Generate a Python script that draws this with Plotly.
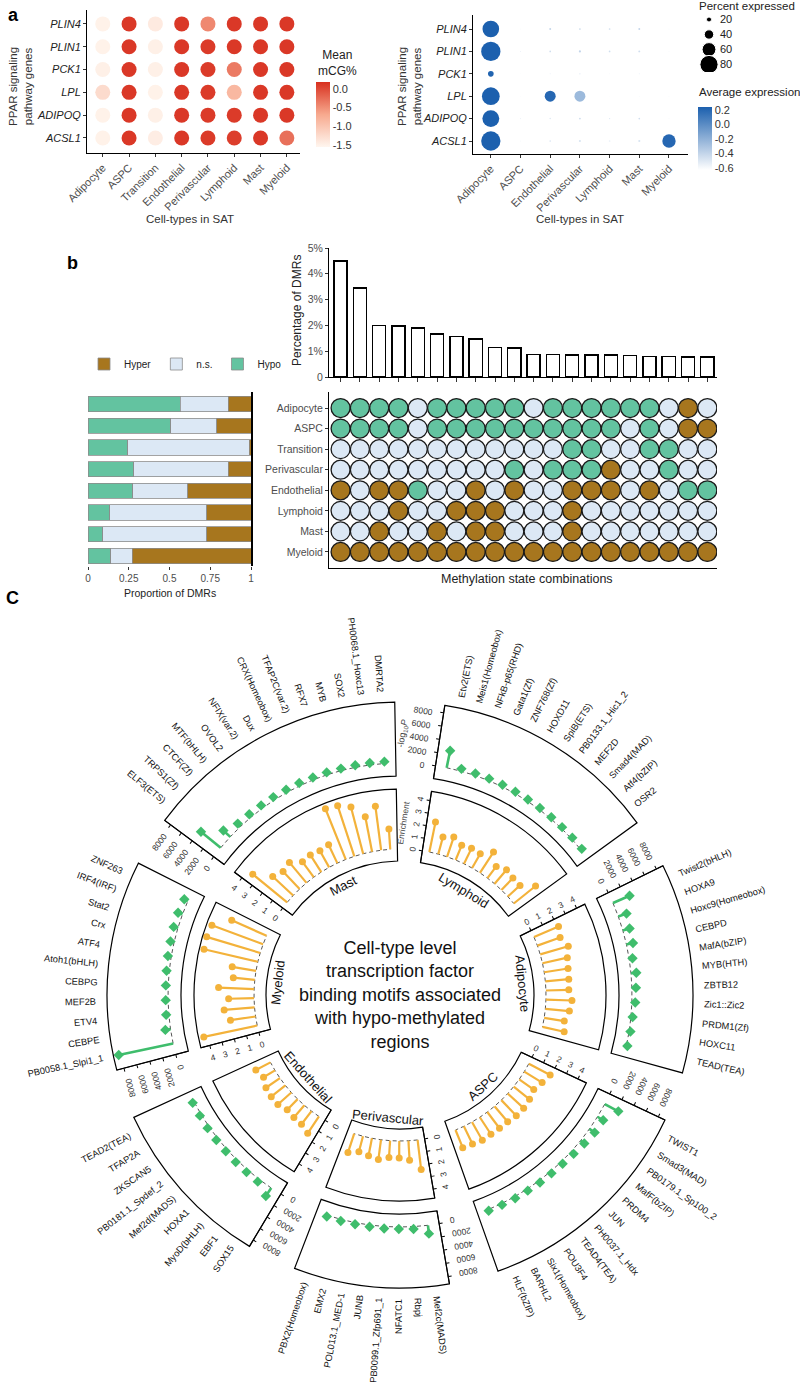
import math
import plotly.graph_objects as go

W, H = 800, 1382
FONT = "Liberation Sans, Arial, Helvetica, sans-serif"
TICKC = "#4D4D4D"


def fx(px):
    return px / W


def fy(py):
    return 1 - py / H


# ---------------- Panel a (left): mean mCG% ----------------
a1_celltypes = ["Adipocyte", "ASPC", "Transition", "Endothelial", "Perivascular", "Lymphoid", "Mast", "Myeloid"]
a_genes = ["PLIN4", "PLIN1", "PCK1", "LPL", "ADIPOQ", "ACSL1"]
mcg_PLIN4 = [-1.50, 0.12, -1.42, 0.12, -0.45, 0.12, 0.12, 0.12]
mcg_PLIN1 = [-1.50, 0.12, -1.48, 0.12, 0.10, 0.12, 0.12, 0.12]
mcg_PCK1 = [-1.48, 0.12, -1.48, 0.12, 0.10, -0.35, 0.12, 0.12]
mcg_LPL = [-1.25, 0.12, -1.50, 0.12, 0.10, -0.85, 0.12, 0.12]
mcg_ADIPOQ = [-1.50, 0.12, -1.48, 0.12, 0.10, 0.10, 0.12, 0.12]
mcg_ACSL1 = [-1.50, 0.12, -1.45, 0.12, 0.10, 0.08, 0.12, -0.28]
mcg_ticks = [0.0, -0.5, -1.0, -1.5]

# ---------------- Panel a (right): expression dot plot ----------------
a2_celltypes = ["Adipocyte", "ASPC", "Endothelial", "Perivascular", "Lymphoid", "Mast", "Myeloid"]
pct_PLIN4 = [73, 2, 6, 5, 5, 6, 2]
pct_PLIN1 = [85, 2, 5, 7, 5, 6, 2]
pct_PCK1 = [23, 1, 2, 3, 2, 2, 1]
pct_LPL = [78, 1, 47, 47, 1, 2, 2]
pct_ADIPOQ = [74, 2, 4, 6, 3, 5, 2]
pct_ACSL1 = [85, 3, 5, 7, 5, 7, 58]
avg_PLIN4 = [0.24, -0.60, -0.40, -0.42, -0.45, -0.40, -0.60]
avg_PLIN1 = [0.24, -0.55, -0.45, -0.40, -0.45, -0.45, -0.60]
avg_PCK1 = [0.22, -0.60, -0.55, -0.50, -0.60, -0.55, -0.60]
avg_LPL = [0.24, -0.60, 0.20, -0.25, -0.60, -0.60, -0.60]
avg_ADIPOQ = [0.24, -0.55, -0.50, -0.45, -0.50, -0.45, -0.60]
avg_ACSL1 = [0.24, -0.60, -0.50, -0.48, -0.55, -0.48, 0.20]
pct_legend = [20, 40, 60, 80]
avg_ticks = [0.2, 0.0, -0.2, -0.4, -0.6]

# ---------------- Panel b ----------------
b_rows = ["Adipocyte", "ASPC", "Transition", "Perivascular", "Endothelial", "Lymphoid", "Mast", "Myeloid"]
b_combo_pct = [4.5, 3.45, 2.0, 1.97, 1.9, 1.67, 1.58, 1.47, 1.15, 1.13,
               0.87, 0.87, 0.86, 0.85, 0.85, 0.83, 0.80, 0.80, 0.77, 0.77]
# G = hypo, N = n.s., B = hyper
state_Adipocyte = "GGGGNGGGGGNGGGGGGNBN"
state_ASPC = "GGGGNGGGGGGGGGGNGNBB"
state_Transition = "NNNNNNNNNNNNGGNNGGNN"
state_Perivascular = "NNNNNNNNNGNGGGBNNGNN"
state_Endothelial = "BNBBGNNBNBNNBBBNBNGG"
state_Lymphoid = "NNNBNNBBBNNNBNNNNNNN"
state_Mast = "NNBNNBNBBNNNBNNNNNNN"
state_Myeloid = "BBBBBBBBBBBBBBBBBBBB"
prop_hypo = [0.566, 0.509, 0.245, 0.282, 0.274, 0.133, 0.090, 0.140]
prop_ns = [0.295, 0.280, 0.743, 0.579, 0.339, 0.595, 0.640, 0.130]
prop_hyper = [0.139, 0.211, 0.012, 0.139, 0.387, 0.272, 0.270, 0.730]

# ---------------- Panel C ----------------
tf_Lymphoid = ["Etv2(ETS)", "Meis1(Homeobox)", "NFkB-p65(RHD)", "Gata1(Zf)", "ZNF768(Zf)", "HOXD11",
               "SpiB(ETS)", "PB0133.1_Hic1_2", "MEF2D", "Smad4(MAD)", "Atf4(bZIP)", "OSR2"]
enr_Lymphoid = [2.4, 1.4, 1.65, 1.25, 1.35, 1.3, 1.95, 1.15, 1.45, 1.3, 1.3, 2.2]
logp_Lymphoid = [2600, 350, 300, 300, 280, 250, 250, 230, 220, 200, 200, 180]

tf_Mast = ["ELF3(ETS)", "TRPS1(Zf)", "CTCF(Zf)", "MTF(bHLH)", "OVOL2", "NFIX(var.2)", "Dux",
           "CRX(Homeobox)", "TFAP2C(var.2)", "RFX7", "MYB", "SOX2", "PH0068.1_Hoxc13", "DMRTA2"]
enr_Mast = [3.5, 2.2, 1.9, 2.1, 1.5, 1.6, 1.5, 1.6, 4.3, 4.2, 3.8, 2.8, 3.5, 1.6]
logp_Mast = [3800, 1400, 600, 500, 450, 450, 400, 400, 350, 350, 300, 300, 300, 280]

tf_Myeloid = ["PB0058.1_Slpi1_1", "CEBPE", "ETV4", "MEF2B", "CEBPG", "Atoh1(bHLH)", "ATF4",
              "Crx", "Stat2", "IRF4(IRF)", "ZNF263"]
enr_Myeloid = [4.3, 2.0, 2.4, 2.0, 2.8, 1.7, 1.9, 4.35, 4.4, 4.3, 3.0]
logp_Myeloid = [8300, 780, 400, 350, 350, 400, 500, 550, 650, 700, 600]

tf_Endothelial = ["SOX15", "EBF1", "MyoD(bHLH)", "HOXA1", "Mef2d(MADS)", "PB0181.1_Spdef_2",
                  "ZKSCAN5", "TFAP2A", "TEAD2(TEA)"]
enr_Endothelial = [1.6, 1.3, 1.26, 1.17, 1.42, 1.42, 1.34, 1.05, 1.3]
logp_Endothelial = [1450, 400, 350, 350, 300, 300, 300, 250, 250]

tf_Perivascular = ["Mef2c(MADS)", "Rbpj", "NFATC1", "PB0099.1_Zfp691_1", "JUNB", "POL013.1_MED-1",
                   "EMX2", "PBX2(Homeobox)"]
enr_Perivascular = [2.35, 1.53, 1.34, 1.33, 1.57, 1.4, 1.27, 1.57]
logp_Perivascular = [1250, 350, 300, 300, 250, 250, 250, 200]

tf_ASPC = ["TWIST1", "Smad3(MAD)", "PB0179.1_Sp100_2", "MafF(bZIP)", "PRDM4", "JUN", "PH0037.1_Hdx",
           "TEAD4(TEA)", "POU3F4", "Six1(Homeobox)", "BARHL2", "HLF(bZIP)"]
enr_ASPC = [1.9, 1.65, 1.4, 1.6, 1.7, 1.7, 1.6, 1.6, 1.6, 1.65, 1.55, 1.5]
logp_ASPC = [2300, 1000, 950, 700, 500, 350, 300, 300, 250, 250, 200, 200]

tf_Adipocyte = ["Twist2(bHLH)", "HOXA9", "Hoxc9(Homeobox)", "CEBPD", "MafA(bZIP)", "MYB(HTH)",
                "ZBTB12", "Zic1::Zic2", "PRDM1(Zf)", "HOXC11", "TEAD(TEA)"]
enr_Adipocyte = [2.1, 1.9, 2.3, 2.0, 1.9, 1.85, 1.8, 2.05, 1.9, 1.6, 1.75]
logp_Adipocyte = [2700, 1300, 1050, 1000, 500, 800, 600, 500, 250, 200, 150]

c_sectors = ["Lymphoid", "Mast", "Myeloid", "Endothelial", "Perivascular", "ASPC", "Adipocyte"]
c_tfs = [tf_Lymphoid, tf_Mast, tf_Myeloid, tf_Endothelial, tf_Perivascular, tf_ASPC, tf_Adipocyte]
c_enr = [enr_Lymphoid, enr_Mast, enr_Myeloid, enr_Endothelial, enr_Perivascular, enr_ASPC, enr_Adipocyte]
c_logp = [logp_Lymphoid, logp_Mast, logp_Myeloid, logp_Endothelial, logp_Perivascular, logp_ASPC, logp_Adipocyte]

# ---------------- styles ----------------
HYPO, NS, HYPER = "#63C3A0", "#DCE8F5", "#A7761E"
STATE_COL = {"G": HYPO, "N": NS, "B": HYPER}
ORANGE, GREEN = "#F3B23A", "#3FBD6C"
red_scale = [[0.0, "#FFF6EF"], [0.5, "#F7A98E"], [1.0, "#D8301F"]]
blue_scale = [[0.0, "#FFFFFF"], [1.0, "#1C60AE"]]

fig = go.Figure()
ann = []


def add_text(x, y, text, size=11, color="#222", angle=0, xanchor="center", yanchor="middle", bold=False):
    if bold:
        text = "<b>" + text + "</b>"
    ann.append(dict(x=fx(x), y=fy(y), xref="paper", yref="paper", text=text, showarrow=False,
                    textangle=angle, xanchor=xanchor, yanchor=yanchor,
                    font=dict(size=size, color=color, family=FONT)))


# ======== Panel a left ========
mcg_rows = [mcg_PLIN4, mcg_PLIN1, mcg_PCK1, mcg_LPL, mcg_ADIPOQ, mcg_ACSL1]
xs, ys, cs = [], [], []
for g, vals in zip(a_genes, mcg_rows):
    for ct, v in zip(a1_celltypes, vals):
        xs.append(ct); ys.append(g); cs.append(v)
fig.add_trace(go.Scatter(
    x=xs, y=ys, mode="markers", xaxis="x", yaxis="y", showlegend=False, hoverinfo="skip",
    marker=dict(size=15, opacity=1, color=cs, cmin=-1.55, cmax=0.18, colorscale=red_scale,
                colorbar=dict(x=fx(316), xanchor="left", y=fy(114.5), yanchor="middle",
                              len=65, lenmode="pixels", thickness=14, thicknessmode="pixels",
                              xpad=0, ypad=0, outlinewidth=0, ticks="",
                              tickvals=mcg_ticks, ticktext=["%.1f" % t for t in mcg_ticks],
                              tickfont=dict(size=11, color="#333", family=FONT)))))
add_text(316, 63, "Mean<br>mCG%", size=12, xanchor="left")

# ======== Panel a right ========
pct_rows = [pct_PLIN4, pct_PLIN1, pct_PCK1, pct_LPL, pct_ADIPOQ, pct_ACSL1]
avg_rows = [avg_PLIN4, avg_PLIN1, avg_PCK1, avg_LPL, avg_ADIPOQ, avg_ACSL1]
xs, ys, ss, cs = [], [], [], []
for g, prow, arow in zip(a_genes, pct_rows, avg_rows):
    for ct, p, a in zip(a2_celltypes, prow, arow):
        xs.append(ct); ys.append(g); ss.append(0.22 * p + 0.6); cs.append(a)
fig.add_trace(go.Scatter(
    x=xs, y=ys, mode="markers", xaxis="x2", yaxis="y2", showlegend=False, hoverinfo="skip",
    marker=dict(size=ss, sizemode="diameter", opacity=1, color=cs, cmin=-0.63, cmax=0.24,
                colorscale=blue_scale, line=dict(width=0),
                colorbar=dict(x=fx(698), xanchor="left", y=fy(138.5), yanchor="middle",
                              len=63, lenmode="pixels", thickness=14, thicknessmode="pixels",
                              xpad=0, ypad=0, outlinewidth=0, ticks="",
                              tickvals=avg_ticks, ticktext=["%.1f" % t for t in avg_ticks],
                              tickfont=dict(size=11, color="#333", family=FONT)))))
add_text(697, 92, "Average expression", size=11.5, xanchor="left")
# size legend
fig.add_trace(go.Scatter(
    x=[0] * len(pct_legend), y=[str(p) for p in pct_legend], mode="markers", xaxis="x3", yaxis="y3",
    showlegend=False, hoverinfo="skip",
    marker=dict(size=[0.22 * p + 0.6 for p in pct_legend], color="black", opacity=1)))
add_text(697, 6, "Percent expressed", size=11.5, xanchor="left")

# ======== Panel b: bars ========
combo_idx = list(range(1, len(b_combo_pct) + 1))
fig.add_trace(go.Bar(x=combo_idx, y=b_combo_pct, xaxis="x4", yaxis="y4", width=0.68, showlegend=False,
                     marker=dict(color="white", line=dict(color="black", width=1.4)), hoverinfo="skip"))

# ======== Panel b: matrix ========
state_rows = [state_Adipocyte, state_ASPC, state_Transition, state_Perivascular,
              state_Endothelial, state_Lymphoid, state_Mast, state_Myeloid]
xs, ys, cs = [], [], []
nrow = len(b_rows)
for r, srow in enumerate(state_rows):
    for c, s in enumerate(srow):
        xs.append(c + 1); ys.append(nrow - 1 - r); cs.append(STATE_COL[s])
fig.add_trace(go.Scatter(x=xs, y=ys, mode="markers", xaxis="x5", yaxis="y5", showlegend=False,
                         hoverinfo="skip",
                         marker=dict(size=19, opacity=1, color=cs, line=dict(color="#1a1a1a", width=1.3))))

# ======== Panel b: stacked proportions ========
ypos = [nrow - 1 - r for r in range(nrow)]
for name, vals, col, rank in [("Hypo", prop_hypo, HYPO, 3), ("n.s.", prop_ns, NS, 2), ("Hyper", prop_hyper, HYPER, 1)]:
    fig.add_trace(go.Bar(x=vals, y=ypos, orientation="h", xaxis="x6", yaxis="y6", name=name,
                         legendrank=rank, width=0.7, hoverinfo="skip",
                         marker=dict(color=col, line=dict(color="#8C8C8C", width=0.8))))

# ======== Panel C: circular lollipops ========
CX, CY = 400, 995
R_IN0, R_IN1, IN_ZERO, IN_PX = 134, 206, 146, 12.7          # enrichment ring
R_OUT0, R_OUT1, OUT_ZERO, OUT_PX = 219, 293, 232, 0.0067    # -log10P ring
SLOT, PAD, START = 3.6, 1.0, 36.0
R_LABEL = 303
TF_FONT = 9.3

widths = [len(t) * SLOT + 2 * PAD for t in c_tfs]
GAP = (360 - sum(widths)) / len(widths)


def sector_bbox(s0, s1):
    arc = s1 - s0
    a0 = s0 % 360
    a1 = a0 + arc
    c0, si0 = math.cos(math.radians(a0)), math.sin(math.radians(a0))
    c1, si1 = math.cos(math.radians(a1)), math.sin(math.radians(a1))
    if (a0 <= 90 and a1 >= 90) or (a0 > 90 and a1 >= 450):
        y1 = 1
    elif si0 <= 0 and si1 <= 0:
        y1 = 0
    else:
        y1 = max(si0, si1)
    if (a0 <= 180 and a1 >= 180) or (a0 > 180 and a1 >= 540):
        x0 = -1
    elif c0 >= 0 and c1 >= 0:
        x0 = 0
    else:
        x0 = min(c0, c1)
    if (a0 <= 270 and a1 >= 270) or (a0 > 270 and a1 >= 630):
        y0 = -1
    elif si0 >= 0 and si1 >= 0:
        y0 = 0
    else:
        y0 = min(si0, si1)
    if a1 >= 360:
        x1 = 1
    elif c0 <= 0 and c1 <= 0:
        x1 = 0
    else:
        x1 = max(c0, c1)
    return x0, y0, x1, y1


def polar_domain(s0, s1, R):
    x0, y0, x1, y1 = sector_bbox(s0, s1)
    return dict(x=[fx(CX + R * x0), fx(CX + R * x1)], y=[fy(CY - R * y0), fy(CY - R * y1)])


def norm180(a):
    return ((a + 180) % 360) - 180


def text_w(s, size):
    special = {'M': .833, 'W': .944, 'm': .833, 'w': .722, 'I': .278, 'i': .222, 'l': .222, 'j': .222,
               'f': .278, 't': .278, 'r': .333, 'J': .5, '(': .333, ')': .333, '.': .278, ':': .278,
               '-': .333, '_': .556, ' ': .278, 'k': .5, 'x': .5, 'c': .5, 's': .5, 'v': .5, 'y': .5, 'z': .5}
    w = 0
    for ch in s:
        if ch in special:
            w += special[ch]
        elif ch.isupper():
            w += .69
        else:
            w += .556
    return w * size


def pxy(r, theta, d=0.0):
    """point at radius r and angle theta, shifted d px in the counterclockwise tangent direction"""
    t = math.radians(theta)
    return CX + r * math.cos(t) - d * math.sin(t), CY - r * math.sin(t) - d * math.cos(t)


pid = 0
s0 = START
for name, tfs, enr, lp, w in zip(c_sectors, c_tfs, c_enr, c_logp, widths):
    s1 = s0 + w
    thetas = [s1 - PAD - (i + 0.5) * SLOT for i in range(len(tfs))]
    ax_angle = norm180(s1)
    for ring in ("inner", "outer"):
        pid += 1
        pname = "polar" if pid == 1 else "polar%d" % pid
        if ring == "inner":
            vals, col, sym, msize, lw = enr, ORANGE, "circle", 7, 2.2
            rlo, rhi = (R_IN0 - IN_ZERO) / IN_PX, (R_IN1 - IN_ZERO) / IN_PX
            hole, Rout = R_IN0 / R_IN1, R_IN1
            tv = [0, 1, 2, 3, 4]
        else:
            vals, col, sym, msize, lw = lp, GREEN, "diamond", 8, 2.6
            rlo, rhi = (R_OUT0 - OUT_ZERO) / OUT_PX, (R_OUT1 - OUT_ZERO) / OUT_PX
            hole, Rout = R_OUT0 / R_OUT1, R_OUT1
            tv = [0, 2000, 4000, 6000, 8000]
        # baseline
        fig.add_trace(go.Scatterpolar(r=[0] * len(thetas), theta=thetas, mode="lines", subplot=pname,
                                      showlegend=False, hoverinfo="skip",
                                      line=dict(color="#555555", width=1, dash="4px,3px")))
        sr, st = [], []
        for t, v in zip(thetas, vals):
            sr += [0, v, None]
            st += [t, t, None]
        fig.add_trace(go.Scatterpolar(r=sr, theta=st, mode="lines", subplot=pname, showlegend=False,
                                      hoverinfo="skip", line=dict(color=col, width=lw)))
        fig.add_trace(go.Scatterpolar(r=vals, theta=thetas, mode="markers", subplot=pname, showlegend=False,
                                      hoverinfo="skip", marker=dict(color=col, size=msize, symbol=sym, opacity=1)))
        fig.layout[pname] = dict(
            domain=polar_domain(s0, s1, Rout), sector=[s0, s1], hole=hole, bgcolor="rgba(0,0,0,0)",
            radialaxis=dict(range=[rlo, rhi], angle=ax_angle, side="counterclockwise", showline=True,
                            linecolor="black", linewidth=1, ticks="outside", ticklen=3, tickcolor="black",
                            tickvals=tv, showgrid=False, tickfont=dict(size=8.5, color="#333", family=FONT)),
            angularaxis=dict(rotation=0, direction="counterclockwise", showline=True, linecolor="black",
                             linewidth=1.2, showgrid=False, ticks="", showticklabels=False,
                             thetaunit="degrees", type="linear"))
    # TF labels
    for t, lab in zip(thetas, tfs):
        tn = norm180(t)
        L = text_w(lab, TF_FONT)
        x, y = pxy(R_LABEL + L / 2, t)
        if -90 < tn < 90:
            ang = -tn
        else:
            ang = norm180(180 - tn)
        add_text(x, y, lab, size=TF_FONT, color="#111", angle=ang)
    # cell type label
    tm = norm180((s0 + s1) / 2)
    ang = 90 - tm if tm > 0 else -(tm + 90)
    x, y = pxy(123, tm)
    add_text(x, y, name, size=13, color="#111", angle=ang)
    # axis titles (only on the Lymphoid sector, as in the original)
    if name == "Lymphoid":
        x, y = pxy(IN_ZERO + 2 * IN_PX, s1, 23)
        add_text(x, y, "Enrichment", size=8.5, color="#444", angle=-s1)
        x, y = pxy(OUT_ZERO + 4000 * OUT_PX, s1, 37)
        add_text(x, y, "-log<sub>10</sub><i>P</i>", size=9, color="#444", angle=-s1)
    s0 = s1 + GAP

add_text(CX, CY, "Cell-type level<br>transcription factor<br>binding motifs associated<br>with hypo-methylated<br>regions",
         size=18, color="#111")

# ======== axis titles / panel labels ========
add_text(6, 15, "a", size=18, color="black", bold=True, xanchor="left")
add_text(72, 263, "b", size=18, color="black", bold=True)
add_text(12, 598, "C", size=18, color="black", bold=True)
add_text(20, 87, "PPAR signaling<br>pathway genes", size=11.5, color="#333", angle=-90)
add_text(190, 219, "Cell-types in SAT", size=11.5, color="#333")
add_text(409, 87, "PPAR signaling<br>pathway genes", size=11.5, color="#333", angle=-90)
add_text(580, 219, "Cell-types in SAT", size=11.5, color="#333")
add_text(297, 311, "Percentage of DMRs", size=12, color="#222", angle=-90)
add_text(527, 579, "Methylation state combinations", size=12.5, color="#222")
add_text(170, 593, "Proportion of DMRs", size=10.5, color="#222")

# ======== layout ========
base_ax = dict(showgrid=False, zeroline=False, linecolor="black", linewidth=1, tickcolor="#333",
               tickfont=dict(size=10.5, color=TICKC, family=FONT))
nr = len(b_rows)
fig.update_layout(
    width=W, height=H, margin=dict(l=0, r=0, t=0, b=0), autosize=False,
    paper_bgcolor="white", plot_bgcolor="white", template="none", hovermode=False,
    font=dict(family=FONT, color="#222"), barmode="stack",
    xaxis=dict(base_ax, domain=[fx(87), fx(300)], anchor="y", type="category",
               categoryorder="array", categoryarray=a1_celltypes, range=[-0.6, 7.5],
               showline=True, ticks="outside", ticklen=3, tickangle=-45,
               tickfont=dict(size=11, color=TICKC, family=FONT)),
    yaxis=dict(base_ax, domain=[fy(153), fy(10)], anchor="x", type="category",
               categoryorder="array", categoryarray=a_genes[::-1], range=[-0.66, 5.61],
               showline=True, ticks="outside", ticklen=3,
               tickfont=dict(size=11, color="#222", family=FONT, style="italic")),
    xaxis2=dict(base_ax, domain=[fx(473), fx(688)], anchor="y2", type="category",
                categoryorder="array", categoryarray=a2_celltypes, range=[-0.6, 6.64],
                showline=True, ticks="outside", ticklen=3, tickangle=-45,
                tickfont=dict(size=11, color=TICKC, family=FONT)),
    yaxis2=dict(base_ax, domain=[fy(154), fy(15)], anchor="x2", type="category",
                categoryorder="array", categoryarray=a_genes[::-1], range=[-0.58, 5.625],
                showline=True, ticks="outside", ticklen=3,
                tickfont=dict(size=11, color="#222", family=FONT, style="italic")),
    xaxis3=dict(domain=[fx(699), fx(719)], anchor="y3", range=[-1, 1], visible=False),
    yaxis3=dict(domain=[fy(72), fy(12)], anchor="x3", type="category", categoryorder="array",
                categoryarray=[str(p) for p in pct_legend], range=[3.5, -0.5], side="right",
                showline=False, ticks="", showgrid=False, zeroline=False,
                tickfont=dict(size=11, color="#222", family=FONT)),
    xaxis4=dict(base_ax, domain=[fx(329), fx(717)], anchor="y4", range=[0.4, 20.5], showline=True,
                ticks="outside", ticklen=4, tickvals=combo_idx, showticklabels=False),
    yaxis4=dict(base_ax, domain=[fy(377), fy(248)], anchor="x4", range=[0, 5], showline=True,
                ticks="outside", ticklen=3, tickvals=[0, 1, 2, 3, 4, 5],
                ticktext=["0", "1%", "2%", "3%", "4%", "5%"]),
    xaxis5=dict(base_ax, domain=[fx(329), fx(717)], anchor="y5", range=[0.4, 20.5], showline=True,
                ticks="", showticklabels=False),
    yaxis5=dict(base_ax, domain=[fy(568), fy(392)], anchor="x5", range=[-0.78, nr - 1 + 0.78],
                showline=True, ticks="outside", ticklen=3, tickvals=list(range(nr)),
                ticktext=b_rows[::-1]),
    xaxis6=dict(base_ax, domain=[fx(88), fx(251)], anchor="y6", range=[0, 1], showline=False,
                ticks="outside", ticklen=3, tickvals=[0, 0.25, 0.5, 0.75, 1],
                ticktext=["0", "0.25", "0.5", "0.75", "1"], tickfont=dict(size=10, color=TICKC, family=FONT)),
    yaxis6=dict(base_ax, domain=[fy(566), fy(392)], anchor="x6", range=[-0.46, nr - 1 + 0.55],
                side="right", showline=True, linewidth=1.5, ticks="", showticklabels=False),
    legend=dict(orientation="h", x=fx(84), y=fy(364), xanchor="left", yanchor="middle",
                traceorder="normal", font=dict(size=10, color="#222", family=FONT),
                bgcolor="rgba(0,0,0,0)", itemwidth=30),
    annotations=ann,
)

fig.write_html("out.html", config={"displayModeBar": False},
               post_script="document.body.style.margin='0';")
